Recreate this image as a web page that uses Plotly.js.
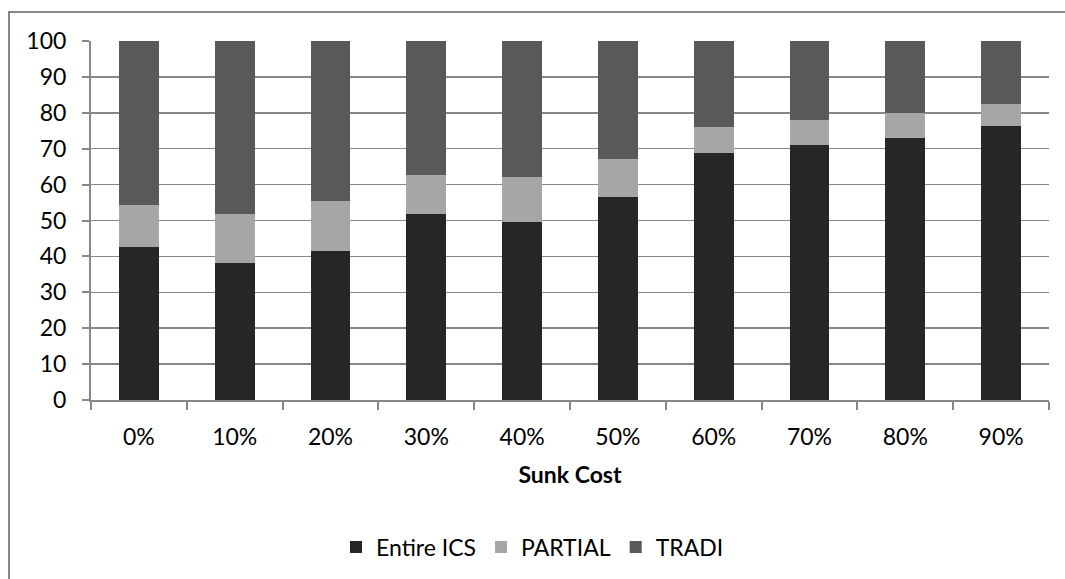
<!DOCTYPE html>
<html>
<head>
<meta charset="utf-8">
<script src="https://cdn.plot.ly/plotly-3.0.1.min.js"></script>
<style>
  html, body { margin: 0; padding: 0; background: #fff; }
  #wrap { position: relative; width: 1065px; height: 579px; overflow: hidden; }
  #chart { width: 1065px; height: 579px; }
  #frame { position: absolute; left: 8px; top: 11px; width: 1100px; height: 600px;
           border-top: 2px solid #878787; border-left: 2px solid #878787; pointer-events: none; }
</style>
</head>
<body>
<div id="wrap">
  <div id="chart"></div>
  <div id="frame"></div>
</div>
<script>
const categories = ["0%", "10%", "20%", "30%", "40%", "50%", "60%", "70%", "80%", "90%"];
const entireICS = [42.6, 38.1, 41.5, 51.7, 49.5, 56.5, 68.7, 70.9, 72.9, 76.2];
const partial   = [11.6, 13.6, 13.9, 11.1, 12.6, 10.5, 7.4, 7.2, 7.0, 6.3];
const tradi     = [45.8, 48.3, 44.6, 37.2, 37.9, 33.0, 23.9, 21.9, 20.1, 17.5];

const font = { family: "Lato, 'Open Sans', sans-serif", size: 23, color: "#000" };

const traces = [
  { name: "Entire ICS", x: categories, y: entireICS, type: "bar", marker: { color: "#262626" } },
  { name: "PARTIAL", x: categories, y: partial, type: "bar", marker: { color: "#a6a6a6" } },
  { name: "TRADI", x: categories, y: tradi, type: "bar", marker: { color: "#595959" } }
];

const layout = {
  width: 1065, height: 579,
  barmode: "stack",
  bargap: 0.585,
  font: font,
  paper_bgcolor: "rgba(0,0,0,0)",
  plot_bgcolor: "#fff",
  margin: { l: 91, r: 16, t: 41, b: 179 },
  showlegend: true,
  legend: {
    orientation: "h",
    xref: "container", yref: "container",
    x: 0.5, xanchor: "center",
    y: 0.055, yanchor: "middle",
    font: font,
    traceorder: "normal",
    itemwidth: 30
  },
  xaxis: {
    type: "category",
    showline: true, linecolor: "#878787", linewidth: 2,
    ticks: "outside", tickson: "boundaries", ticklen: 8, tickcolor: "#878787", tickwidth: 2,
    ticklabelstandoff: 15,
    showgrid: false,
    title: { text: "<b>Sunk Cost</b>", font: font, standoff: 18 }
  },
  yaxis: {
    range: [0, 100],
    dtick: 10,
    showline: true, linecolor: "#878787", linewidth: 2,
    ticks: "outside", ticklen: 7, tickcolor: "#878787", tickwidth: 2,
    ticklabelstandoff: 11,
    showgrid: true, gridcolor: "#878787", gridwidth: 1.5,
    zeroline: false
  }
};

Plotly.newPlot("chart", traces, layout, { displayModeBar: false, staticPlot: true });
</script>
</body>
</html>
